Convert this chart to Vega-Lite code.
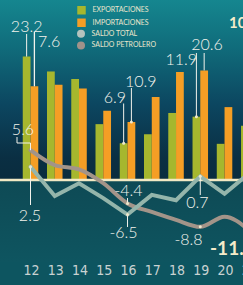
{
  "$schema": "https://vega.github.io/schema/vega-lite/v6.json",
  "width": 279.3,
  "height": 262,
  "autosize": {"type": "none"},
  "padding": {"left": 0, "top": 0, "right": 0, "bottom": 23},
  "background": "#0d5560",
  "config": {
    "view": {"stroke": null, "fill": {"gradient": "linear", "x1": 0, "y1": 0, "x2": 0, "y2": 1, "stops": [
      {"offset": 0, "color": "#15868f"},
      {"offset": 0.18, "color": "#106c7b"},
      {"offset": 0.4, "color": "#0c4660"},
      {"offset": 0.6, "color": "#0a2f43"},
      {"offset": 0.686, "color": "#0a2c3e"},
      {"offset": 0.69, "color": "#0e4a55"},
      {"offset": 1, "color": "#0e5560"}]}},
    "locale": {"number": {"decimal": ".", "thousands": ",", "grouping": [3], "currency": ["", ""], "minus": "-"}},
    "font": "Lato"
  },
  "datasets": {
    "barras": [
      {"anio": "12", "serie": "EXPORTACIONES", "valor": 23.2}, {"anio": "12", "serie": "IMPORTACIONES", "valor": 17.6},
      {"anio": "13", "serie": "EXPORTACIONES", "valor": 20.4}, {"anio": "13", "serie": "IMPORTACIONES", "valor": 17.9},
      {"anio": "14", "serie": "EXPORTACIONES", "valor": 19.0}, {"anio": "14", "serie": "IMPORTACIONES", "valor": 17.2},
      {"anio": "15", "serie": "EXPORTACIONES", "valor": 10.5}, {"anio": "15", "serie": "IMPORTACIONES", "valor": 13.0},
      {"anio": "16", "serie": "EXPORTACIONES", "valor": 6.9}, {"anio": "16", "serie": "IMPORTACIONES", "valor": 10.9},
      {"anio": "17", "serie": "EXPORTACIONES", "valor": 8.6}, {"anio": "17", "serie": "IMPORTACIONES", "valor": 15.6},
      {"anio": "18", "serie": "EXPORTACIONES", "valor": 12.6}, {"anio": "18", "serie": "IMPORTACIONES", "valor": 20.3},
      {"anio": "19", "serie": "EXPORTACIONES", "valor": 11.9}, {"anio": "19", "serie": "IMPORTACIONES", "valor": 20.6},
      {"anio": "20", "serie": "EXPORTACIONES", "valor": 6.8}, {"anio": "20", "serie": "IMPORTACIONES", "valor": 13.7},
      {"anio": "21", "serie": "EXPORTACIONES", "valor": 10.2}, {"anio": "21", "serie": "IMPORTACIONES", "valor": 14.0}
    ],
    "saldos": [
      {"anio": "12", "serie": "SALDO TOTAL", "valor": 2.5}, {"anio": "13", "serie": "SALDO TOTAL", "valor": -3.0},
      {"anio": "14", "serie": "SALDO TOTAL", "valor": -0.6}, {"anio": "15", "serie": "SALDO TOTAL", "valor": -3.4},
      {"anio": "16", "serie": "SALDO TOTAL", "valor": -6.5}, {"anio": "17", "serie": "SALDO TOTAL", "valor": -2.8},
      {"anio": "18", "serie": "SALDO TOTAL", "valor": -3.8}, {"anio": "19", "serie": "SALDO TOTAL", "valor": 0.7},
      {"anio": "20", "serie": "SALDO TOTAL", "valor": -2.6}, {"anio": "21", "serie": "SALDO TOTAL", "valor": 1.2},
      {"anio": "12", "serie": "SALDO PETROLERO", "valor": 5.6}, {"anio": "13", "serie": "SALDO PETROLERO", "valor": 2.8},
      {"anio": "14", "serie": "SALDO PETROLERO", "valor": 2.0}, {"anio": "15", "serie": "SALDO PETROLERO", "valor": -0.6},
      {"anio": "16", "serie": "SALDO PETROLERO", "valor": -4.4}, {"anio": "17", "serie": "SALDO PETROLERO", "valor": -6.0},
      {"anio": "18", "serie": "SALDO PETROLERO", "valor": -7.5}, {"anio": "19", "serie": "SALDO PETROLERO", "valor": -8.8},
      {"anio": "20", "serie": "SALDO PETROLERO", "valor": -6.9}, {"anio": "21", "serie": "SALDO PETROLERO", "valor": -9.4}
    ]
  },
  "encoding": {
    "y": {"field": "valor", "type": "quantitative", "scale": {"domain": [-15.41, 33.83], "nice": false, "zero": false}, "axis": null}
  },
  "resolve": {"scale": {"color": "independent"}, "legend": {"color": "independent"}},
  "layer": [
    {
      "data": {"name": "barras"},
      "mark": {"type": "bar"},
      "encoding": {
        "x": {"field": "anio", "type": "nominal", "title": null,
          "scale": {"paddingInner": 0.36, "paddingOuter": 0.938},
          "axis": {"title": null, "domain": false, "ticks": false, "tickSize": 0, "grid": false, "labelAngle": 0, "labelPadding": 2, "labelOffset": 1,
            "labelFont": "Liberation Sans Narrow, DejaVu Sans Condensed, sans-serif", "labelFontSize": 14, "labelColor": "#c9d2d2"}},
        "xOffset": {"field": "serie", "type": "nominal", "scale": {"domain": ["EXPORTACIONES", "IMPORTACIONES"], "paddingInner": 0, "paddingOuter": 0}},
        "y": {"field": "valor", "type": "quantitative", "stack": null, "scale": {"domain": [-15.41, 33.83], "nice": false, "zero": false}, "axis": null},
        "color": {"field": "serie", "type": "nominal",
          "scale": {"domain": ["EXPORTACIONES", "IMPORTACIONES"], "range": ["#a6b72e", "#f59e25"]},
          "legend": {"title": null, "orient": "none", "legendX": 77, "legendY": 5.75, "padding": 0, "symbolType": "square", "symbolSize": 72,
            "symbolStrokeWidth": 0, "labelFont": "Lato", "labelFontSize": 7, "labelColor": "#ebe6cc", "labelOffset": 6.5, "rowPadding": 3.5}}
      }
    },
    {
      "data": {"values": [{"valor": 0}]},
      "mark": {"type": "rule", "color": "#f2e9c4", "strokeWidth": 2.6, "xOffset": 8, "strokeCap": "round"},
      "encoding": {}
    },
    {
      "data": {"name": "saldos"},
      "encoding": {
        "x": {"field": "anio", "type": "nominal", "title": null},
        "color": {"field": "serie", "type": "nominal",
          "scale": {"domain": ["SALDO TOTAL", "SALDO PETROLERO"], "range": ["#94b5ab", "#a39489"]},
          "legend": {"title": null, "orient": "none", "legendX": 77, "legendY": 29.75, "padding": 0, "symbolType": "circle", "symbolSize": 64,
            "symbolStrokeWidth": 0, "labelFont": "Lato", "labelFontSize": 7, "labelColor": "#ebe6cc", "labelOffset": 6.5, "rowPadding": 3.7,
            "encode": {"symbols": {"update": {"fill": {"signal": "datum.value === 'SALDO TOTAL' ? '#b4c3be' : '#a0928a'"}, "stroke": {"value": "transparent"}}}}}}
      },
      "layer": [
        {"transform": [{"filter": "datum.serie === 'SALDO PETROLERO'"}], "mark": {"type": "line", "strokeWidth": 4, "interpolate": "monotone", "strokeCap": "round"}},
        {"transform": [{"filter": "datum.serie === 'SALDO TOTAL'"}], "mark": {"type": "line", "strokeWidth": 4, "strokeCap": "round"}}
      ]
    },
    {
      "data": {"name": "barras"},
      "transform": [{"filter": "datum.anio === '12' && datum.serie === 'EXPORTACIONES'"}],
      "encoding": {"x": {"field": "anio", "type": "nominal", "title": null}, "xOffset": {"field": "serie", "type": "nominal"}},
      "layer": [
        {"mark": {"type": "rule", "color": "#f3f3ec", "strokeWidth": 1, "y2Offset": -22.6}, "encoding": {"y2": {"field": "valor"}}},
        {"mark": {"type": "text", "font": "Lato", "fontWeight": 300, "fontSize": 16, "color": "#f3f3ec", "baseline": "alphabetic", "align": "center", "dx": 0, "dy": -24.6},
         "encoding": {"text": {"field": "valor", "type": "quantitative", "format": ".1f"}}}
      ]
    },
    {
      "data": {"name": "barras"},
      "transform": [{"filter": "datum.anio === '12' && datum.serie === 'IMPORTACIONES'"}],
      "encoding": {"x": {"field": "anio", "type": "nominal", "title": null}, "xOffset": {"field": "serie", "type": "nominal"}},
      "layer": [
        {"mark": {"type": "rule", "color": "#f3f3ec", "strokeWidth": 1.3, "xOffset": -0.5, "y2Offset": -54.7}, "encoding": {"y2": {"field": "valor"}}},
        {"mark": {"type": "text", "font": "Lato", "fontWeight": 300, "fontSize": 16, "color": "#f3f3ec", "baseline": "alphabetic", "align": "left", "dx": 3.6, "dy": -39.7},
         "encoding": {"text": {"value": "7.6"}}}
      ]
    },
    {
      "data": {"name": "barras"},
      "transform": [{"filter": "datum.anio === '16' && datum.serie === 'EXPORTACIONES'"}],
      "encoding": {"x": {"field": "anio", "type": "nominal", "title": null}, "xOffset": {"field": "serie", "type": "nominal"}},
      "layer": [
        {"mark": {"type": "rule", "color": "#f3f3ec", "strokeWidth": 1, "xOffset": 0.7, "y2Offset": -39.8}, "encoding": {"y2": {"field": "valor"}}},
        {"mark": {"type": "text", "font": "Lato", "fontWeight": 300, "fontSize": 16, "color": "#f3f3ec", "baseline": "alphabetic", "align": "right", "dx": 2.4, "dy": -40.6},
         "encoding": {"text": {"field": "valor", "type": "quantitative", "format": ".1f"}}}
      ]
    },
    {
      "data": {"name": "barras"},
      "transform": [{"filter": "datum.anio === '16' && datum.serie === 'IMPORTACIONES'"}],
      "encoding": {"x": {"field": "anio", "type": "nominal", "title": null}, "xOffset": {"field": "serie", "type": "nominal"}},
      "layer": [
        {"mark": {"type": "rule", "color": "#f3f3ec", "strokeWidth": 1, "xOffset": -0.7, "y2Offset": -34}, "encoding": {"y2": {"field": "valor"}}},
        {"mark": {"type": "text", "font": "Lato", "fontWeight": 300, "fontSize": 16, "color": "#f3f3ec", "baseline": "alphabetic", "align": "left", "dx": -6.4, "dy": -35},
         "encoding": {"text": {"field": "valor", "type": "quantitative", "format": ".1f"}}}
      ]
    },
    {
      "data": {"name": "barras"},
      "transform": [{"filter": "datum.anio === '19' && datum.serie === 'EXPORTACIONES'"}],
      "encoding": {"x": {"field": "anio", "type": "nominal", "title": null}, "xOffset": {"field": "serie", "type": "nominal"}},
      "layer": [
        {"mark": {"type": "rule", "color": "#f3f3ec", "strokeWidth": 1, "xOffset": 2.6, "y2Offset": -63.7}, "encoding": {"y2": {"field": "valor"}}},
        {"mark": {"type": "text", "font": "Lato", "fontWeight": 300, "fontSize": 16, "color": "#f3f3ec", "baseline": "alphabetic", "align": "right", "dx": 0.6, "dy": -51.7},
         "encoding": {"text": {"field": "valor", "type": "quantitative", "format": ".1f"}}}
      ]
    },
    {
      "data": {"name": "barras"},
      "transform": [{"filter": "datum.anio === '19' && datum.serie === 'IMPORTACIONES'"}],
      "encoding": {"x": {"field": "anio", "type": "nominal", "title": null}, "xOffset": {"field": "serie", "type": "nominal"}},
      "layer": [
        {"mark": {"type": "rule", "color": "#f3f3ec", "strokeWidth": 1, "y2Offset": -17.4}, "encoding": {"y2": {"field": "valor"}}},
        {"mark": {"type": "text", "font": "Lato", "fontWeight": 300, "fontSize": 16, "color": "#f3f3ec", "baseline": "alphabetic", "align": "center", "dx": 2.9, "dy": -20.4},
         "encoding": {"text": {"field": "valor", "type": "quantitative", "format": ".1f"}}}
      ]
    },
    {
      "data": {"name": "barras"},
      "transform": [{"filter": "datum.anio === '21' && datum.serie === 'IMPORTACIONES'"}],
      "mark": {"type": "text", "font": "Lato", "fontWeight": "bold", "fontSize": 15, "color": "#f4ecca", "baseline": "alphabetic", "align": "left", "dx": -23.6, "dy": -77.5},
      "encoding": {"x": {"field": "anio", "type": "nominal", "title": null}, "xOffset": {"field": "serie", "type": "nominal"}, "text": {"value": "10"}}
    },
    {
      "data": {"name": "saldos"},
      "transform": [{"filter": "datum.anio === '12' && datum.serie === 'SALDO PETROLERO'"}],
      "encoding": {"x": {"field": "anio", "type": "nominal", "title": null}},
      "layer": [
        {"mark": {"type": "rule", "color": "#f3f3ec", "strokeWidth": 1, "y2Offset": -7.2}, "encoding": {"y2": {"field": "valor"}}},
        {"mark": {"type": "rule", "color": "#f3f3ec", "strokeWidth": 1, "x2Offset": -13.5, "yOffset": -7.2}, "encoding": {"x2": {"field": "anio"}}},
        {"mark": {"type": "rule", "color": "#f3f3ec", "strokeWidth": 1, "xOffset": -13.5, "yOffset": -7.2, "y2Offset": -13.2}, "encoding": {"y2": {"field": "valor"}}},
        {"mark": {"type": "text", "font": "Lato", "fontWeight": 300, "fontSize": 16, "color": "#f3f3ec", "baseline": "alphabetic", "align": "center", "dx": -7.5, "dy": -15.2},
         "encoding": {"text": {"field": "valor", "type": "quantitative", "format": ".1f"}}}
      ]
    },
    {
      "data": {"name": "saldos"},
      "transform": [{"filter": "datum.anio === '12' && datum.serie === 'SALDO TOTAL'"}],
      "encoding": {"x": {"field": "anio", "type": "nominal", "title": null}},
      "layer": [
        {"mark": {"type": "rule", "color": "#f3f3ec", "strokeWidth": 1, "y2Offset": 38.3}, "encoding": {"y2": {"field": "valor"}}},
        {"mark": {"type": "text", "font": "Lato", "fontWeight": 300, "fontSize": 16, "color": "#f3f3ec", "baseline": "alphabetic", "align": "center", "dx": -0.5, "dy": 54.3},
         "encoding": {"text": {"field": "valor", "type": "quantitative", "format": ".1f"}}}
      ]
    },
    {
      "data": {"name": "saldos"},
      "transform": [{"filter": "datum.anio === '16' && datum.serie === 'SALDO PETROLERO'"}],
      "encoding": {"x": {"field": "anio", "type": "nominal", "title": null}},
      "layer": [
        {"mark": {"type": "rule", "color": "#f3f3ec", "strokeWidth": 1, "y2Offset": -5.4}, "encoding": {"y2": {"field": "valor"}}},
        {"mark": {"type": "text", "font": "Lato", "fontWeight": 300, "fontSize": 16, "color": "#f3f3ec", "baseline": "alphabetic", "align": "center", "dx": 1, "dy": -7.4},
         "encoding": {"text": {"field": "valor", "type": "quantitative", "format": ".1f"}}}
      ]
    },
    {
      "data": {"name": "saldos"},
      "transform": [{"filter": "datum.anio === '16' && datum.serie === 'SALDO TOTAL'"}],
      "encoding": {"x": {"field": "anio", "type": "nominal", "title": null}},
      "layer": [
        {"mark": {"type": "rule", "color": "#f3f3ec", "strokeWidth": 1, "y2Offset": 12.4}, "encoding": {"y2": {"field": "valor"}}},
        {"mark": {"type": "text", "font": "Lato", "fontWeight": 300, "fontSize": 16, "color": "#f3f3ec", "baseline": "alphabetic", "align": "center", "dx": -4, "dy": 23.4},
         "encoding": {"text": {"field": "valor", "type": "quantitative", "format": ".1f"}}}
      ]
    },
    {
      "data": {"name": "saldos"},
      "transform": [{"filter": "datum.anio === '19' && datum.serie === 'SALDO TOTAL'"}],
      "encoding": {"x": {"field": "anio", "type": "nominal", "title": null}},
      "layer": [
        {"mark": {"type": "rule", "color": "#f3f3ec", "strokeWidth": 1, "y2Offset": 18.7}, "encoding": {"y2": {"field": "valor"}}},
        {"mark": {"type": "text", "font": "Lato", "fontWeight": 300, "fontSize": 16, "color": "#f3f3ec", "baseline": "alphabetic", "align": "center", "dx": -2.8, "dy": 31.7},
         "encoding": {"text": {"field": "valor", "type": "quantitative", "format": ".1f"}}}
      ]
    },
    {
      "data": {"name": "saldos"},
      "transform": [{"filter": "datum.anio === '19' && datum.serie === 'SALDO PETROLERO'"}],
      "encoding": {"x": {"field": "anio", "type": "nominal", "title": null}},
      "layer": [
        {"mark": {"type": "text", "font": "Lato", "fontWeight": 300, "fontSize": 16, "color": "#f3f3ec", "baseline": "alphabetic", "align": "center", "dx": -11.8, "dy": 18.2},
         "encoding": {"text": {"field": "valor", "type": "quantitative", "format": ".1f"}}}
      ]
    },
    {
      "data": {"name": "saldos"},
      "transform": [{"filter": "(datum.anio === '16' || datum.anio === '19') || (datum.anio === '12' && datum.serie === 'SALDO TOTAL')"}],
      "mark": {"type": "point", "filled": true, "size": 9, "color": "#efe8cc", "opacity": 1},
      "encoding": {"x": {"field": "anio", "type": "nominal", "title": null}}
    },
    {
      "data": {"name": "barras"},
      "transform": [{"filter": "(datum.anio === '16') || (datum.anio === '19' && datum.serie === 'EXPORTACIONES')"}],
      "mark": {"type": "point", "filled": true, "size": 9, "color": "#efe8cc", "opacity": 1},
      "encoding": {"x": {"field": "anio", "type": "nominal", "title": null}, "xOffset": {"field": "serie", "type": "nominal"}}
    },
    {
      "data": {"name": "saldos"},
      "transform": [{"filter": "datum.anio === '21' && datum.serie === 'SALDO PETROLERO'"}],
      "mark": {"type": "text", "font": "Lato", "fontWeight": "bold", "fontSize": 19, "color": "#f4ecca", "baseline": "alphabetic", "align": "left", "dx": -38.75, "dy": 25},
      "encoding": {"x": {"field": "anio", "type": "nominal", "title": null}, "text": {"value": "-11.4"}}
    }
  ]
}
